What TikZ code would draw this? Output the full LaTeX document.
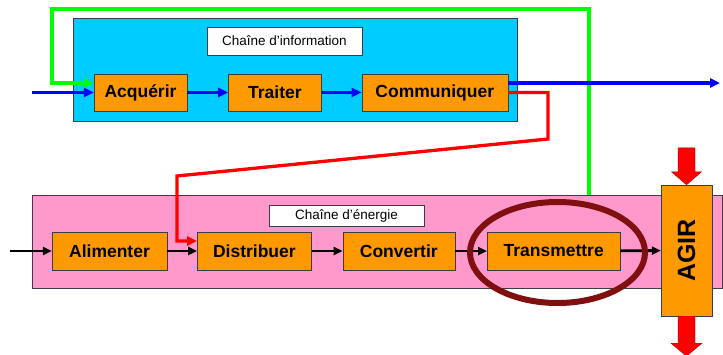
\documentclass[tikz,border=0pt]{standalone}
\usepackage{fontspec}
\setmainfont{Liberation Sans}
\usepackage{xcolor}
\usepackage{tikz}
\usetikzlibrary{shapes.geometric, arrows.meta, positioning}
\definecolor{infocyan}{RGB}{0, 204, 255}
\definecolor{energypink}{RGB}{255, 153, 204}
\definecolor{boxorange}{RGB}{255, 153, 0}
\definecolor{framegray}{RGB}{60, 60, 70}
\definecolor{linkgreen}{RGB}{0, 255, 0}
\definecolor{linkred}{RGB}{255, 0, 0}
\definecolor{linkblue}{RGB}{0, 0, 255}
\definecolor{ringred}{RGB}{128, 16, 16}

\begin{document}
\begin{tikzpicture}[
    x=1pt, y=-1pt,
    chain/.style={draw=framegray, inner sep=0pt, anchor=north west},
    title/.style={draw=framegray, fill=white, minimum width=155pt, inner sep=0pt,
                  font=\fontsize{13.5}{16}\selectfont},
    fn/.style={draw=framegray, fill=boxorange, minimum height=37pt, inner sep=0pt,
               font=\fontsize{17.5}{20}\selectfont\bfseries},
    blueflow/.style={draw=linkblue, line width=3.3pt, -{Triangle[length=10pt, width=9pt]}},
    blackflow/.style={draw=black, line width=2.8pt, -{Triangle[length=9pt, width=8pt]}},
    greenflow/.style={draw=linkgreen, line width=3.3pt, -{Triangle[length=10pt, width=9pt]}},
    redflow/.style={draw=linkred, line width=3.3pt, -{Triangle[length=10pt, width=9pt]}},
    bigarrow/.style={fill=linkred, draw=red!70!black, line width=0.4pt}
]
    \useasboundingbox (0,0) rectangle (723,354);

    % Backgrounds
    \node[chain, fill=infocyan, minimum width=444pt, minimum height=103pt] (info) at (73,18) {};
    \node[chain, fill=energypink, minimum width=690pt, minimum height=93pt] (energy) at (32,195) {};
    \node[title, minimum height=28pt] (infotitle) at (284.5,41) {Chaîne d'information};
    \node[title, minimum height=21pt] (energytitle) at (346.5,215.5) {Chaîne d'énergie};

    % Information chain
    \node[fn, minimum width=93pt] (acq) at (140.5,92.5) {Acquérir};
    \node[fn, minimum width=93pt, right=41pt of acq] (trait) {Traiter};
    \node[fn, minimum width=146pt, right=40pt of trait] (comm) {Communiquer};

    % Energy chain
    \node[fn, minimum width=115pt, minimum height=38pt] (alim) at (109.5,251) {Alimenter};
    \node[fn, minimum width=114pt, minimum height=38pt, right=30pt of alim] (distr) {Distribuer};
    \node[fn, minimum width=112pt, minimum height=38pt, right=31pt of distr] (conv) {Convertir};
    \node[fn, minimum width=133pt, minimum height=38pt, right=32pt of conv] (trans) {Transmettre};
    \node[fn, minimum width=51pt, minimum height=131pt, font=\fontsize{25}{28}\selectfont\bfseries]
        (agir) at (686.5,250.5) {\rotatebox{90}{AGIR}};

    % Free ends and bends
    \coordinate (infoin) at (32,92.5);
    \coordinate (infoout) at (720,83);
    \coordinate (energyin) at (10,251);
    \coordinate (gstart) at (589,195);
    \coordinate (gtop) at (589,9);
    \coordinate (gleft) at (52,9);
    \coordinate (rturn) at (548,139);
    \coordinate (rdrop) at (177,176);

    % Feedback loops
    \draw[greenflow] (gstart) -- (gtop) -- (gleft) |- ([yshift=9.5pt]acq.west);
    \draw[redflow] (comm.east) -| (rturn) -- (rdrop) |- ([yshift=10pt]distr.west);

    % Flows
    \draw[blueflow] (infoin) -- (acq);
    \draw[blueflow] (acq) -- (trait);
    \draw[blueflow] (trait) -- (comm);
    \draw[blueflow] (comm.east |- infoout) -- (infoout);
    \draw[blackflow] (energyin) -- (alim);
    \draw[blackflow] (alim) -- (distr);
    \draw[blackflow] (distr) -- (conv);
    \draw[blackflow] (conv) -- (trans);
    \draw[blackflow] (trans) -- (agir);

    % Action arrows
    \draw[bigarrow] (agir.north) -- +(-15,-13) -- +(-8.5,-13) -- +(-8.5,-37)
        -- +(8.5,-37) -- +(8.5,-13) -- +(15,-13) -- cycle;
    \draw[bigarrow] (agir.south) +(-8.5,0) -- +(-8.5,27) -- +(-15.5,27) -- +(0,40)
        -- +(15.5,27) -- +(8.5,27) -- +(8.5,0) -- cycle;

    % Highlight
    \node[draw=ringred, line width=6pt, ellipse, minimum width=175pt, minimum height=101pt,
          inner sep=0pt] (ring) at (557.5,252.5) {};
\end{tikzpicture}
\end{document}
